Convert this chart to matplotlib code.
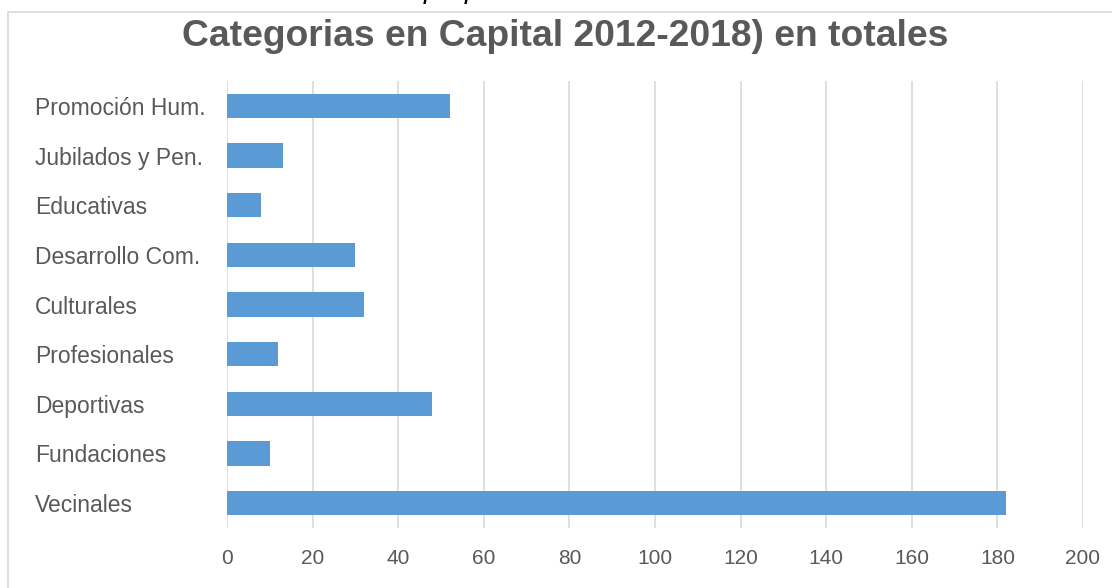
#!/usr/bin/env python3

import matplotlib
matplotlib.use("Agg")
import matplotlib.pyplot as plt
from matplotlib.patches import Rectangle

# data (top to bottom as shown)
categorias = ["Promoción Hum.", "Jubilados y Pen.", "Educativas", "Desarrollo Com.",
              "Culturales", "Profesionales", "Deportivas", "Fundaciones", "Vecinales"]
totales = [52, 13, 8, 30, 32, 12, 48, 10, 182]
xticks = [0, 20, 40, 60, 80, 100, 120, 140, 160, 180, 200]
titulo = "Categorias en Capital 2012-2018) en totales"

gris = "#595959"
azul = "#5b9bd5"

plt.rcParams['font.family'] = ['Liberation Sans', 'DejaVu Sans']

fig = plt.figure(figsize=(11.12, 5.88), dpi=100)
W, H = 1112, 588

# chart frame (light gray border, runs off the right/bottom edge)
fig.patches.append(Rectangle((8/W, -0.1), 1.2, 1 - 12/H + 0.1, transform=fig.transFigure,
                             fill=False, edgecolor="#d9d9d9", linewidth=1.2))

# cropped text at very top (only descenders show in the source image)
fig.text(431/W, 1 + 2/H, "p", style="italic", fontsize=20, ha="center", va="baseline", color="black")
fig.text(472/W, 1 + 2/H, "p", style="italic", fontsize=20, ha="center", va="baseline", color="black")

ax = fig.add_axes([227/W, 1 - 528/H, 856/W, (528 - 81)/H])

y = list(range(len(categorias)))
ax.barh(y, totales, height=0.49, color=azul, zorder=3)
ax.set_ylim(len(categorias) - 0.5, -0.5)
ax.set_xlim(0, 200)
ax.set_yticks(y)
ax.set_yticklabels(categorias, ha="left")
ax.set_xticks(xticks)

for s in ax.spines.values():
    s.set_visible(False)
ax.grid(axis="x", color="#d9d9d9", linewidth=1.2, zorder=0)
ax.tick_params(axis="y", length=0, pad=(227 - 35) * 0.72, labelsize=16.5, labelcolor=gris)
ax.tick_params(axis="x", length=0, pad=15, labelsize=15, labelcolor=gris)

fig.text(565/W, 1 - 37/H, titulo, fontsize=26.8, fontweight="bold", color=gris,
         ha="center", va="center")

fig.savefig("out.png", dpi=100)
